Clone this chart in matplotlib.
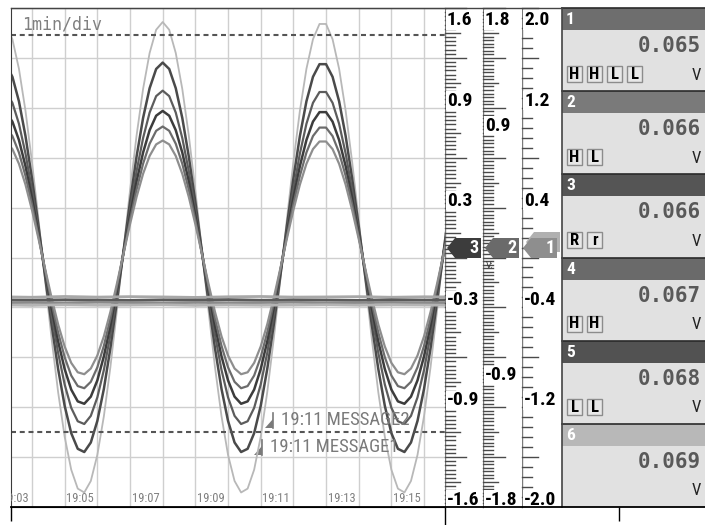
import numpy as np
import matplotlib
matplotlib.use("Agg")
import matplotlib.pyplot as plt
from matplotlib.patches import Rectangle, Polygon
from matplotlib.transforms import blended_transform_factory, offset_copy

W, H = 705, 525
NARROW = ['Roboto Condensed', 'DejaVu Sans']

# trend samples, minutes past 19:00 (one reading every 12 s)
minutes = np.round(np.arange(3.2, 16.81, 0.2), 1)

# shape of the sine input, 1 = positive peak
wave = [0.9918, 0.9269, 0.8014, 0.6235, 0.4047, 0.1596, -0.0960, -0.3453,
        -0.5724, -0.7614, -0.9010, -0.9815, -0.9979, -0.9491, -0.8382, -0.6737,
        -0.4647, -0.2225, 0.0320, 0.2845, 0.5173, 0.7158, 0.8685, 0.9672,
        1.0000, 0.9672, 0.8685, 0.7158, 0.5173, 0.2845, 0.0320, -0.2225,
        -0.4647, -0.6737, -0.8382, -0.9491, -0.9979, -0.9815, -0.9010, -0.7614,
        -0.5724, -0.3453, -0.0960, 0.1596, 0.4047, 0.6235, 0.8014, 0.9269,
        0.9918, 0.9918, 0.9269, 0.8014, 0.6235, 0.4047, 0.1596, -0.0960,
        -0.3453, -0.5724, -0.7614, -0.9010, -0.9815, -0.9979, -0.9491, -0.8382,
        -0.6737, -0.4647, -0.2225, 0.0320, 0.2845]

# peak amplitude (V) and pen of each sine channel
sine_amps = [1.51, 1.25, 1.07, 0.94, 0.84, 0.75]
sine_colors = ['#b8b8b8', '#4a4a4a', '#5c5c5c', '#3c3c3c', '#6c6c6c', '#8e8e8e']
sine_widths = [1.3, 1.8, 1.6, 1.8, 1.6, 1.6]

# channels sitting near -0.28 V, one reading per minute
flat_minutes = np.arange(3, 18)
flat_1 = [-0.252, -0.255, -0.250, -0.254, -0.251, -0.253, -0.256, -0.252,
          -0.250, -0.254, -0.253, -0.251, -0.255, -0.252, -0.253]
flat_2 = [-0.272, -0.274, -0.271, -0.273, -0.275, -0.272, -0.273, -0.270,
          -0.274, -0.272, -0.273, -0.275, -0.271, -0.273, -0.272]
flat_3 = [-0.290, -0.288, -0.291, -0.287, -0.289, -0.292, -0.288, -0.290,
          -0.289, -0.287, -0.291, -0.289, -0.288, -0.290, -0.289]
flat_4 = [-0.304, -0.307, -0.303, -0.306, -0.305, -0.303, -0.307, -0.304,
          -0.306, -0.305, -0.303, -0.306, -0.304, -0.305, -0.307]
flat_series = [flat_1, flat_2, flat_3, flat_4]
flat_colors = ['#a8a8a8', '#5a5a5a', '#8a8a8a', '#b4b4b4']

limit_levels = [1.43, -1.12]
time_ticks = [3, 5, 7, 9, 11, 13, 15]

# message marks: time text, message, position (min, V)
msg_times = ['19:11', '19:11']
msg_texts = ['MESSAGE2', 'MESSAGE1']
msg_x = [11.38, 11.04]
msg_y = [-1.04, -1.215]

# scale columns
scale_edges = [445, 483, 522, 562]
scale_spans = [1.6, 1.8, 2.0]
scale_labels = [['1.6', '0.9', '0.3', '-0.3', '-0.9', '-1.6'],
                ['1.8', '0.9', '-0.9', '-1.8'],
                ['2.0', '1.2', '0.4', '-0.4', '-1.2', '-2.0']]
scale_label_vals = [[1.6, 0.96, 0.32, -0.32, -0.96, -1.6],
                    [1.8, 0.9, -0.9, -1.8],
                    [2.0, 1.2, 0.4, -0.4, -1.2, -2.0]]
ticks_per_div = [12, 14, 5]
mid_every = [6, 7, None]
tick_lens = [(10, 15, 21), (10, 15, 22), (10, None, 16)]

# digital panel
panel_values = ['0.065', '0.066', '0.066', '0.067', '0.068', '0.069']
panel_alarms = [['H', 'H', 'L', 'L'], ['H', 'L'], ['R', 'r'], ['H', 'H'], ['L', 'L'], []]
panel_head_colors = ['#6e6e6e', '#7a7a7a', '#555555', '#6a6a6a', '#525252', '#b8b8b8']

# zero pointers in front of the scales
pointer_x = [447, 485, 523]
pointer_colors = ['#3c3c3c', '#6a6a6a', '#8e8e8e']
pointer_labels = ['3', '2', '1']


def rect(x0, y0, x1, y1):
    return [x0 / W, 1 - y1 / H, (x1 - x0) / W, (y1 - y0) / H]


fig = plt.figure(figsize=(W / 100, H / 100), dpi=100)
fig.patch.set_facecolor('white')

# trend area
ax = fig.add_axes(rect(11, 8, 445, 507))
px_per_min = 32.67
x_left = 3.357
ax.set_xlim(x_left, x_left + 434 / px_per_min)
ax.set_ylim(-1.6, 1.6)
ax.set_xticks(np.arange(4, 17))
ax.set_yticks(np.linspace(-1.6, 1.6, 11))
ax.tick_params(length=0, labelbottom=False, labelleft=False)
ax.grid(True, color='#cfcfcf', lw=1.0)
ax.set_axisbelow(True)
ax.spines['right'].set_visible(False)
ax.spines['left'].set_color('#3a3a3a')
ax.spines['top'].set_color('#3a3a3a')
ax.spines['bottom'].set_color('black')

wave = np.array(wave)
for amp, col, lw in zip(sine_amps, sine_colors, sine_widths):
    ax.plot(minutes, amp * wave, color=col, lw=lw)

for vals, col in zip(flat_series, flat_colors):
    ax.plot(flat_minutes, vals, color=col, lw=2)

for lv in limit_levels:
    ax.axhline(lv, color='#555555', lw=1.5, ls=(0, (2.4, 1.8)))

ax.text(0.025, 0.966, '1min/div', transform=ax.transAxes, va='center',
        ha='left', family='DejaVu Sans Mono', fontsize=12, color='#808080')

tlab = offset_copy(blended_transform_factory(ax.transData, ax.transAxes),
                   fig=fig, x=1.5, y=2, units='dots')
for m in time_ticks:
    ax.text(m, 0, '19:%02d' % m, transform=tlab, ha='left', va='bottom',
            family=NARROW, fontsize=9, color='#808080', clip_on=True)

# message flags
min_pp = 1 / px_per_min
v_pp = 0.32 / 49.9
for t, txt, mx, my in zip(msg_times, msg_texts, msg_x, msg_y):
    ax.plot([mx, mx], [my + 7 * v_pp, my - 8 * v_pp], color='#7a7a7a', lw=1.2)
    ax.add_patch(Polygon([(mx - 8 * min_pp, my - 8 * v_pp), (mx, my - 8 * v_pp),
                          (mx, my + 1 * v_pp)], closed=True, fc='#7a7a7a', ec='none'))
    ax.text(mx + 8 * min_pp, my, t + ' ' + txt, ha='left', va='center',
            family=NARROW, fontsize=13.5, color='#7a7a7a')

# scale columns
for i in range(3):
    x0, x1 = scale_edges[i], scale_edges[i + 1]
    span = scale_spans[i]
    sax = fig.add_axes(rect(x0, 8, x1, 507))
    sax.set_xlim(0, x1 - x0)
    sax.set_ylim(-span, span)
    sax.axis('off')
    sax.axvline(0, color='#7a7a7a', lw=1)
    n = ticks_per_div[i]
    short, mid, long_ = tick_lens[i]
    for j in range(10 * n + 1):
        v = -span + j * (2 * span) / (10 * n)
        if j % n == 0:
            ln = long_
        elif mid_every[i] and j % mid_every[i] == 0:
            ln = mid
        else:
            ln = short
        sax.plot([0, ln], [v, v], color='#4a4a4a', lw=1, clip_on=False)
    for lab, v in zip(scale_labels[i], scale_label_vals[i]):
        top_label = v == span
        sax.text(2, v, lab, va='top' if top_label else 'baseline', ha='left',
                 family=NARROW, fontweight='bold', fontsize=14, color='black',
                 zorder=5, bbox=dict(fc='white', ec='none', pad=0.4),
                 transform=offset_copy(sax.transData, fig=fig,
                                       y=-3 if top_label else 2, units='dots'))

# overlay in pixel coordinates for the panel and frame pieces
deco = fig.add_axes([0, 0, 1, 1])
deco.set_xlim(0, W)
deco.set_ylim(H, 0)
deco.axis('off')

box_h = 499 / 6
for k in range(6):
    top = 8 + k * box_h
    deco.add_patch(Rectangle((562, top), 143, 22, fc=panel_head_colors[k], ec='none'))
    deco.add_patch(Rectangle((562, top + 22), 143, box_h - 22, fc='#e1e1e1', ec='none'))
    deco.plot([562, 705], [top, top], color='#2a2a2a', lw=1.2)
    deco.text(566, top + 11.5, str(k + 1), color='white', fontsize=12.5,
              fontweight='bold', va='center', ha='left', family=NARROW)
    deco.text(701, top + 38, panel_values[k], ha='right', va='center',
              family='DejaVu Sans Mono', fontweight='bold', fontsize=15,
              color='#595959')
    for j, a in enumerate(panel_alarms[k]):
        x = 567 + 20 * j
        deco.add_patch(Rectangle((x, top + 58), 15, 16, fc='#e8e8e8',
                                 ec='#8c8c8c', lw=1))
        deco.text(x + 7.5, top + 66.5, a, ha='center', va='center',
                  family=NARROW, fontweight='bold', fontsize=12, color='black')
    deco.text(701, top + 67, 'V', ha='right', va='center', family=NARROW,
              fontsize=12, color='#222222')

deco.plot([561.5, 561.5], [8, 507], color='#444444', lw=1.2)

# channel zero pointers
ptr_y = 248
deco.add_patch(Polygon([(526, ptr_y - 6), (534, ptr_y - 16), (560, ptr_y - 16),
                        (560, ptr_y + 4), (534, ptr_y + 4)], closed=True,
                       fc='#b0b0b0', ec='none'))
for x, col, lab in zip(pointer_x, pointer_colors, pointer_labels):
    deco.add_patch(Polygon([(x, ptr_y), (x + 8, ptr_y - 10), (x + 34, ptr_y - 10),
                            (x + 34, ptr_y + 10), (x + 8, ptr_y + 10)],
                           closed=True, fc=col, ec='none'))
    deco.text(x + 27, ptr_y, lab, color='white', fontsize=13, fontweight='bold',
              ha='center', va='center', family=NARROW)
deco.text(486, 266, 'V:', fontsize=6, color='#333333', ha='left', va='center')

# frame lines and ticks below the screen
deco.plot([11, 562], [8, 8], color='#444444', lw=1)
deco.plot([11, 705], [507, 507], color='black', lw=1.3)
deco.vlines([11, 445, 619], 507, [521, 525, 521], color='black', lw=1)

fig.savefig('out.png', dpi=100)
